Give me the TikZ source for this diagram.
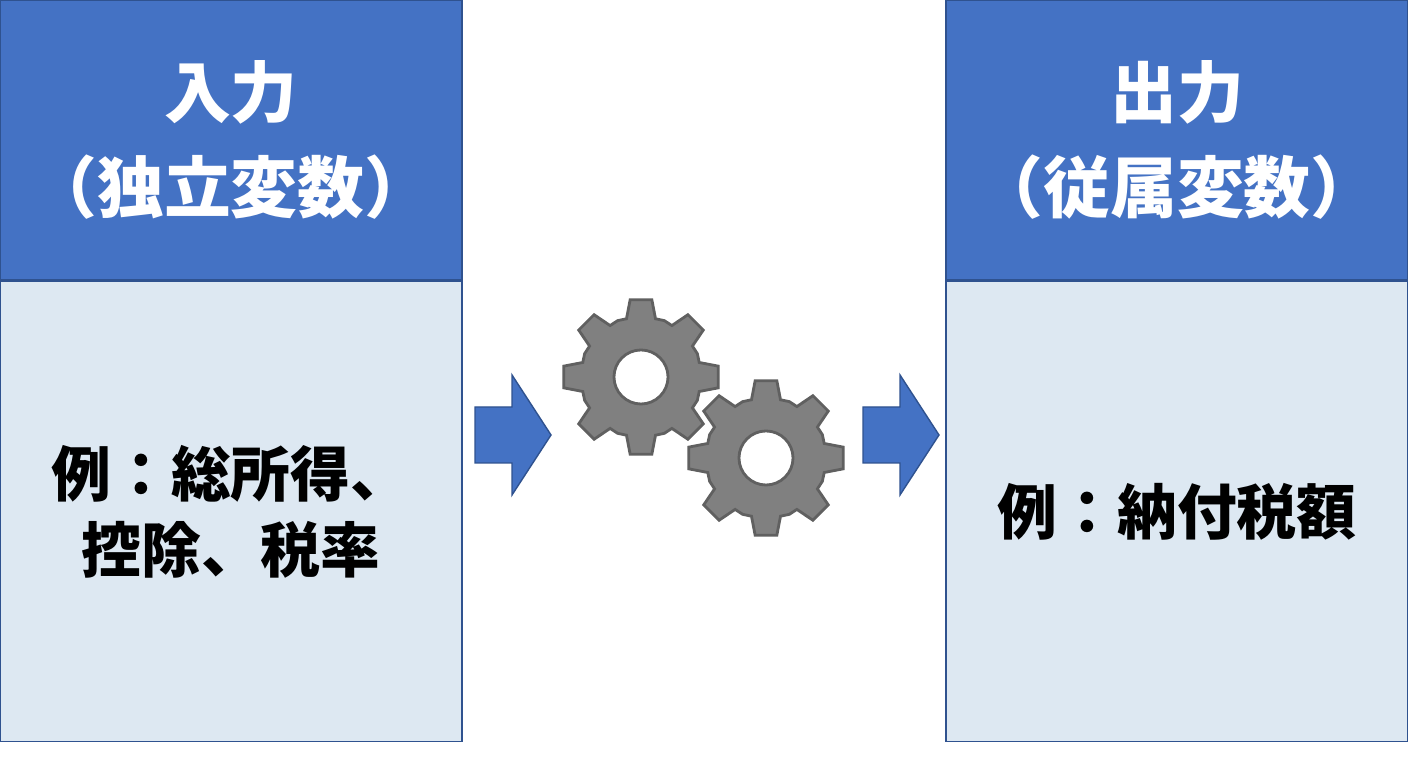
\documentclass[tikz,border=0pt]{standalone}
\usepackage{fontspec}
\setmainfont{Noto Sans CJK JP}
\usepackage{tikz}
\usetikzlibrary{positioning}
\definecolor{headblue}{HTML}{4472C4}
\definecolor{bodyblue}{HTML}{DDE8F2}
\definecolor{edgeblue}{HTML}{2F528F}
\definecolor{geargray}{HTML}{808080}
\definecolor{gearedge}{HTML}{606060}

\begin{document}
\begin{tikzpicture}[x=0.01cm,y=-0.01cm]
    \tikzstyle{every node}=[inner sep=0pt,font=\bfseries]
    \tikzstyle{head}=[draw=edgeblue,fill=headblue,text=white,minimum width=4.62cm,minimum height=2.8cm,align=center,font=\fontsize{19pt}{27pt}\selectfont\bfseries]
    \tikzstyle{body}=[draw=edgeblue,fill=bodyblue,text=black,minimum width=4.62cm,minimum height=4.6cm,align=center,font=\fontsize{17pt}{21.5pt}\selectfont\bfseries]
    \tikzstyle{blockarrow}=[draw=edgeblue,fill=headblue,thin]
    \tikzstyle{gear}=[draw=gearedge,fill=geargray,even odd rule,line width=0.8pt]

    \useasboundingbox (0,0) rectangle (1408,768) ;

    \node[head] (inhead) at (231,140) {入力\\（独立変数）} ;
    \node[body,below=0pt of inhead] (inbody) {例：総所得、\\控除、税率} ;

    \node[head] (outhead) at (1177,140) {出力\\（従属変数）} ;
    \node[body,below=0pt of outhead] (outbody) {例：納付税額} ;

    \newcommand{\blockarr}[1]{%
      \draw[blockarrow] (#1,407) -- (#1+37,407) -- (#1+37,375) -- (#1+76,435)
        -- (#1+37,495) -- (#1+37,463) -- (#1,463) -- cycle ;}
    \blockarr{475}
    \blockarr{863}

    \newcommand{\cog}[2]{%
      \draw[gear] (#1,#2) ++(-14:60)
        \foreach \a in {0,45,...,315}{
          -- ([shift={(#1,#2)}]\a-14:60) -- ([shift={(#1,#2)}]\a-8:78)
          -- ([shift={(#1,#2)}]\a+8:78) -- ([shift={(#1,#2)}]\a+14:60)
          -- ([shift={(#1,#2)}]\a+22.5:61) }
        -- cycle
        (#1,#2) circle[radius=0.27cm] ;}
    \cog{641}{377}
    \cog{766}{458}

\end{tikzpicture}
\end{document}
